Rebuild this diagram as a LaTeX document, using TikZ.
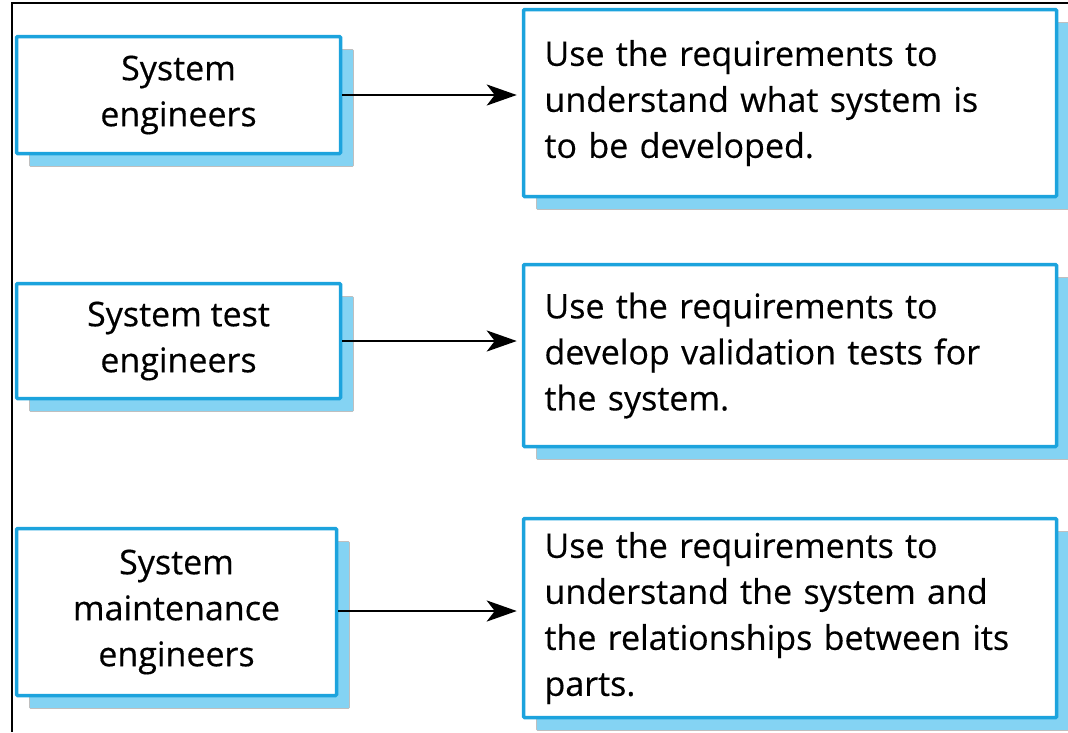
\documentclass[tikz,border=0pt]{standalone}
\usepackage{fontspec}
\setmainfont{Open Sans}[FakeBold=0.4]
\usetikzlibrary{arrows.meta,shadows}
\definecolor{boxblue}{HTML}{1CA3DD}
\definecolor{shadeblue}{HTML}{84D3F3}
\tikzset{
  card/.style={draw=boxblue, line width=3.5pt, fill=white, rounded corners=1pt,
    inner sep=0pt, font=\fontsize{34}{46}\selectfont,
    drop shadow={shadow xshift=13pt, shadow yshift=-13pt, fill=shadeblue,
      draw=black!25, line width=0.6pt, opacity=1}},
  role/.style={card, align=center},
  usage/.style={card, align=left, inner xsep=21pt, text width=#1},
  flow/.style={draw=black, line width=2.8pt, shorten >=5pt,
    -{Stealth[length=30pt, width=21pt, inset=8pt]}}
}
\begin{document}
\begin{tikzpicture}[x=1pt, y=-1pt]
  \useasboundingbox (0,0) rectangle (1068,732);
  \clip (0,0) rectangle (1068,732);

  % frame edges along the top and left
  \draw[line width=2.8pt] (1068,3) -- (12,3) -- (12,732);

  % who reads the requirements
  \node[role, minimum width=324pt, minimum height=117pt] (se)  at (178.5,95)  {System\\engineers};
  \node[role, minimum width=324pt, minimum height=115pt] (ste) at (178.5,341) {System test\\engineers};
  \node[role, minimum width=320pt, minimum height=167pt] (sme) at (176.5,612) {System\\maintenance\\engineers};

  % what they use them for
  \node[usage=491pt, minimum height=187pt] (u1) at (790,103)
    {Use the requirements to\\understand what system is\\to be developed.};
  \node[usage=491pt, minimum height=182pt] (u2) at (790,355.5)
    {Use the requirements to\\develop validation tests for\\the system.};
  \node[usage=491pt, minimum height=199pt] (u3) at (790,618)
    {Use the requirements to\\understand the system and\\the relationships between its\\parts.};

  % connectors
  \draw[flow] (se.east)  -- (se.east  -| u1.west);
  \draw[flow] (ste.east) -- (ste.east -| u2.west);
  \draw[flow] ([yshift=1pt]sme.east) -- ([yshift=1pt]sme.east -| u3.west);
\end{tikzpicture}
\end{document}
